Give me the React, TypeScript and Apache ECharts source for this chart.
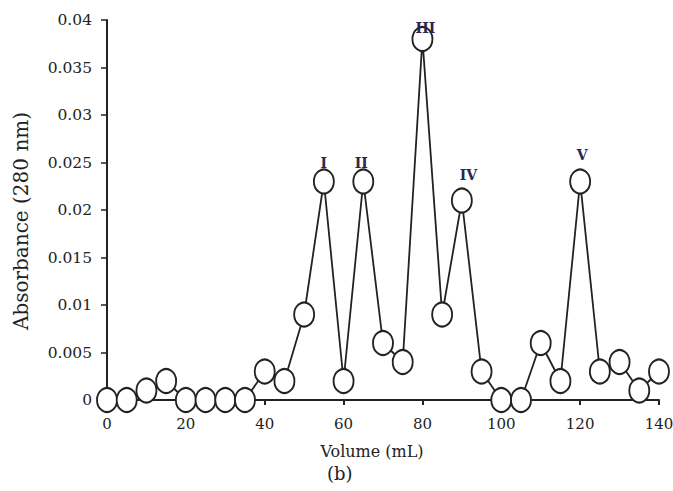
import React, { useEffect, useRef } from "react";
import * as echarts from "echarts";

const volumes = [0, 5, 10, 15, 20, 25, 30, 35, 40, 45, 50, 55, 60, 65, 70, 75, 80, 85, 90, 95, 100, 105, 110, 115, 120, 125, 130, 135, 140];
const absorbance = [0, 0, 0.001, 0.002, 0, 0, 0, 0, 0.003, 0.002, 0.009, 0.023, 0.002, 0.023, 0.006, 0.004, 0.038, 0.009, 0.021, 0.003, 0, 0, 0.006, 0.002, 0.023, 0.003, 0.004, 0.001, 0.003];
const peakLabels = ["", "", "", "", "", "", "", "", "", "", "", "I", "", "II", "", "", "III", "", "IV", "", "", "", "", "", "V", "", "", "", ""];
const xTicks = [0, 20, 40, 60, 80, 100, 120, 140];
const yTicks = [0, 0.005, 0.01, 0.015, 0.02, 0.025, 0.03, 0.035, 0.04];

const xName = "Volume (mL)";
const yName = "Absorbance (280 nm)";
const panelName = "(b)";

// label placement (style only)
const peakLabelOffsets: Record<string, [number, number]> = {
  I: [0, -19],
  II: [-2, -18.5],
  III: [3, -11.5],
  IV: [6.5, -25.5],
  V: [2, -26.5],
};

export default function App() {
  const ref = useRef<HTMLDivElement>(null);
  useEffect(() => {
    document.body.style.margin = "0";
    if (!ref.current) return;
    const chart = echarts.init(ref.current, undefined, { renderer: "svg" });
    const font = "DejaVu Serif";
    const data = volumes.map((v, i) => {
      const item: any = { value: [v, absorbance[i]] };
      const name = peakLabels[i];
      if (name) {
        item.label = {
          show: true,
          position: "inside",
          formatter: name,
          offset: peakLabelOffsets[name],
          fontFamily: font,
          fontWeight: "bold",
          fontSize: 14,
          color: "#2d2550",
        };
      }
      return item;
    });
    chart.setOption({
      animation: false,
      backgroundColor: "#ffffff",
      grid: { left: 107, right: 14, top: 20, bottom: 91, containLabel: false, outerBoundsMode: "none" },
      xAxis: {
        type: "value",
        min: xTicks[0],
        max: xTicks[xTicks.length - 1],
        interval: xTicks[1] - xTicks[0],
        name: xName,
        nameLocation: "middle",
        nameGap: 43,
        nameTextStyle: { fontFamily: font, fontSize: 16, color: "#222", padding: [0, 22, 0, 0] },
        axisLine: { show: true, lineStyle: { color: "#222", width: 2 } },
        axisTick: { show: true, inside: false, length: 5, lineStyle: { color: "#222", width: 2 } },
        axisLabel: { fontFamily: font, fontSize: 15, color: "#222", margin: 16 },
        splitLine: { show: false },
      },
      yAxis: {
        type: "value",
        min: yTicks[0],
        max: yTicks[yTicks.length - 1],
        interval: yTicks[1] - yTicks[0],
        name: yName,
        nameLocation: "middle",
        nameRotate: 90,
        nameGap: 76,
        nameTextStyle: { fontFamily: font, fontSize: 20, color: "#222", padding: [0, 22, 0, 0] },
        axisLine: { show: true, lineStyle: { color: "#222", width: 2 } },
        axisTick: { show: true, inside: false, length: 6, lineStyle: { color: "#222", width: 1.5 } },
        axisLabel: {
          fontFamily: font,
          fontSize: 15.5,
          color: "#222",
          margin: 15,
          formatter: (v: number) => (v === 0 ? "0" : String(parseFloat(v.toFixed(3)))),
        },
        splitLine: { show: false },
      },
      graphic: [
        {
          type: "text",
          left: 327,
          top: 464,
          style: { text: panelName, fontFamily: font, fontSize: 18, fill: "#222" },
        },
      ],
      series: [
        {
          type: "line",
          data,
          clip: false,
          symbol: "circle",
          symbolSize: [20, 24],
          showAllSymbol: true,
          lineStyle: { color: "#222", width: 1.8 },
          itemStyle: { color: "#ffffff", borderColor: "#222", borderWidth: 2 },
          z: 3,
        },
      ],
    });
    return () => chart.dispose();
  }, []);
  return <div ref={ref} style={{ width: 673, height: 491 }} />;
}
